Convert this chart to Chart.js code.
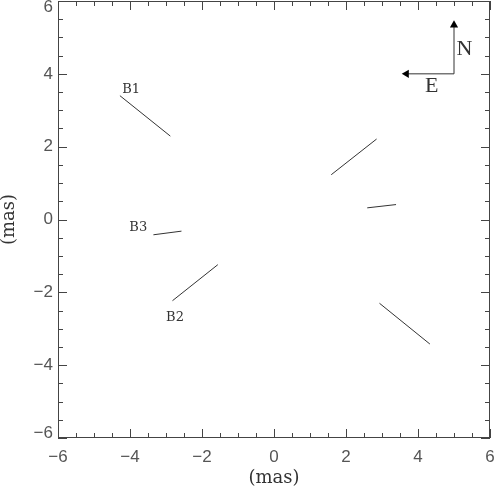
<!DOCTYPE html>
<html>
<head>
<meta charset="utf-8">
<script src="https://cdn.jsdelivr.net/npm/chart.js@4/dist/chart.umd.min.js"></script>
<style>
  body { margin: 0; background: #fff; }
  canvas { display: block; }
</style>
</head>
<body>
<canvas id="offsetChart" width="495" height="487"></canvas>
<script>
// segment end points (mas)
const segX1 = [-4.28, -2.82, -3.35, 1.59, 2.59, 2.93];
const segY1 = [3.40, -2.23, -0.42, 1.23, 0.32, -2.30];
const segX2 = [-2.88, -1.56, -2.57, 2.85, 3.39, 4.33];
const segY2 = [2.29, -1.24, -0.32, 2.21, 0.41, -3.42];

// text labels next to the segments
const labelText = ['B1', 'B2', 'B3'];
const labelX = [-3.97, -2.75, -3.77];
const labelY = [3.56, -2.70, -0.21];

// compass: origin, north tip, east tip
const compassX = [5, 5, 3.68];
const compassY = [4, 5.34, 4];
const compassText = ['N', 'E'];
const compassTextX = [5.29, 4.38];
const compassTextY = [4.68, 3.65];

const tickValues = [-6, -4, -2, 0, 2, 4, 6];

function fmt(v) {
  return v < 0 ? '\u2212' + Math.abs(v) : String(v);
}

const datasets = segX1.map((x1, i) => ({
  data: [{ x: x1, y: segY1[i] }, { x: segX2[i], y: segY2[i] }],
  showLine: true,
  pointRadius: 0,
  borderColor: '#333',
  borderWidth: 1
}));

datasets.push({
  data: [{ x: compassX[0], y: compassY[0] }, { x: compassX[1], y: compassY[1] }],
  showLine: true,
  borderColor: '#333',
  borderWidth: 1,
  pointStyle: 'triangle',
  pointRadius: [0, 4.7],
  pointRotation: [0, 0],
  pointBackgroundColor: '#000',
  pointBorderWidth: 0
});
datasets.push({
  data: [{ x: compassX[0], y: compassY[0] }, { x: compassX[2], y: compassY[2] }],
  showLine: true,
  borderColor: '#333',
  borderWidth: 1,
  pointStyle: 'triangle',
  pointRadius: [0, 4.7],
  pointRotation: [0, 270],
  pointBackgroundColor: '#000',
  pointBorderWidth: 0
});

const framePlugin = {
  id: 'frame',
  afterDatasetsDraw(chart) {
    const { ctx, chartArea: a, scales: { x, y } } = chart;
    ctx.save();
    ctx.strokeStyle = '#444';
    ctx.lineWidth = 1;
    ctx.strokeRect(a.left + 0.5, a.top + 0.5, a.right - a.left - 1, a.bottom - a.top - 1);
    ctx.beginPath();
    for (let v = -6; v <= 6; v += 0.5) {
      const len = v % 2 === 0 ? 9 : 5;
      const px = Math.round(x.getPixelForValue(v)) + 0.5;
      ctx.moveTo(px, a.bottom); ctx.lineTo(px, a.bottom - len);
      ctx.moveTo(px, a.top); ctx.lineTo(px, a.top + len);
      const py = Math.round(y.getPixelForValue(v)) + 0.5;
      ctx.moveTo(a.left, py); ctx.lineTo(a.left + len, py);
      ctx.moveTo(a.right, py); ctx.lineTo(a.right - len, py);
    }
    ctx.stroke();

    // end labels of the y axis, nudged inside the canvas
    ctx.fillStyle = '#555';
    ctx.font = '17px "Liberation Sans"';
    ctx.textAlign = 'right';
    ctx.textBaseline = 'middle';
    ctx.fillText(fmt(6), a.left - 5, y.getPixelForValue(6) + 6);
    ctx.fillText(fmt(-6), a.left - 5, y.getPixelForValue(-6) - 5);

    ctx.fillStyle = '#333';
    ctx.textAlign = 'center';
    ctx.font = '13px "DejaVu Serif"';
    labelText.forEach((t, i) => {
      ctx.fillText(t, x.getPixelForValue(labelX[i]), y.getPixelForValue(labelY[i]));
    });
    ctx.font = '22px "Liberation Serif"';
    compassText.forEach((t, i) => {
      ctx.fillText(t, x.getPixelForValue(compassTextX[i]), y.getPixelForValue(compassTextY[i]));
    });
    ctx.restore();
  }
};

new Chart(document.getElementById('offsetChart'), {
  type: 'scatter',
  data: { datasets: datasets },
  options: {
    responsive: false,
    animation: false,
    layout: { autoPadding: false, padding: { top: 1, right: 5, left: 0, bottom: 0 } },
    plugins: { legend: { display: false }, tooltip: { enabled: false } },
    scales: {
      x: {
        min: -6, max: 6,
        afterBuildTicks: s => { s.ticks = tickValues.map(v => ({ value: v })); },
        afterFit: s => { s.height = 49; s.paddingLeft = 0; s.paddingRight = 0; },
        grid: { display: false, drawTicks: false },
        border: { display: false },
        ticks: {
          padding: 9,
          color: '#555',
          font: { family: 'Liberation Sans', size: 17 },
          callback: v => fmt(v)
        },
        title: {
          display: true,
          text: '(mas)',
          color: '#333',
          font: { family: 'DejaVu Serif', size: 18, lineHeight: 1 },
          padding: { top: 0, bottom: 0 }
        }
      },
      y: {
        min: -6, max: 6,
        afterBuildTicks: s => { s.ticks = tickValues.map(v => ({ value: v })); },
        afterFit: s => { s.width = 58; s.paddingTop = 0; s.paddingBottom = 0; },
        grid: { display: false, drawTicks: false },
        border: { display: false },
        ticks: {
          padding: 5,
          color: '#555',
          font: { family: 'Liberation Sans', size: 17 },
          callback: v => (Math.abs(v) === 6 ? '' : fmt(v))
        },
        title: {
          display: true,
          text: '(mas)',
          color: '#333',
          font: { family: 'DejaVu Serif', size: 18, lineHeight: 1 },
          padding: { top: 0, bottom: 0 }
        }
      }
    }
  },
  plugins: [framePlugin]
});
</script>
</body>
</html>
